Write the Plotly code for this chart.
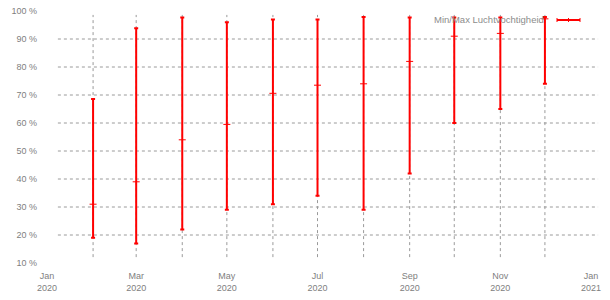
import plotly.graph_objects as go

months = ["2020-02-01", "2020-03-01", "2020-04-01", "2020-05-01", "2020-06-01", "2020-07-01",
          "2020-08-01", "2020-09-01", "2020-10-01", "2020-11-01", "2020-12-01"]
hum_min = [19, 17, 22, 29, 31, 34, 29, 42, 60, 65, 74]
hum_mid = [31, 39, 54, 59.5, 70.6, 73.5, 74, 82, 91, 92, 97.2]
hum_max = [68.6, 93.8, 97.7, 96, 97, 97, 97.9, 97.7, 97.7, 97.7, 97.9]

y_ticks = [10, 20, 30, 40, 50, 60, 70, 80, 90, 100]
y_labels = [f"{v} %" for v in y_ticks]
x_ticks = ["2020-01-01", "2020-03-01", "2020-05-01", "2020-07-01", "2020-09-01", "2020-11-01", "2021-01-01"]
x_labels = ["Jan<br>2020", "Mar<br>2020", "May<br>2020", "Jul<br>2020", "Sep<br>2020", "Nov<br>2020", "Jan<br>2021"]
grid_months = ["2020-02-01", "2020-03-01", "2020-04-01", "2020-05-01", "2020-06-01", "2020-07-01",
               "2020-08-01", "2020-09-01", "2020-10-01", "2020-11-01", "2020-12-01"]
grid_y = [20, 30, 40, 50, 60, 70, 80, 90]

RED = "#ff0000"
GRID = "#9a9a9a"
TXT = "#808080"

fig = go.Figure()
fig.add_trace(go.Scatter(
    x=months, y=hum_mid, mode="markers",
    marker=dict(symbol="line-ew", size=5, color=RED, line=dict(color=RED, width=1)),
    error_y=dict(type="data", symmetric=False,
                 array=[mx - m for mx, m in zip(hum_max, hum_mid)],
                 arrayminus=[m - mn for m, mn in zip(hum_mid, hum_min)],
                 color=RED, thickness=2, width=2),
    showlegend=False,
))

shapes = []
for gy in grid_y:
    shapes.append(dict(type="line", xref="paper", yref="y", x0=0.02, x1=1.013, y0=gy, y1=gy,
                       line=dict(color=GRID, width=1, dash="3px,3px"), layer="below"))
for gm in grid_months:
    shapes.append(dict(type="line", xref="x", yref="y", x0=gm, x1=gm, y0=12.1, y1=98.6,
                       line=dict(color=GRID, width=1, dash="3px,3px"), layer="below"))
# legend symbol
lx0, lx1, ly = 557, 580, 20
W, H = 610, 300
L, R, T, B = 47, 19, 11, 37
pw, ph = W - L - R, H - T - B
def px(x):
    return (x - L) / pw
def py(y):
    return 1 - (y - T) / ph
shapes.append(dict(type="line", xref="paper", yref="paper", x0=px(lx0), x1=px(lx1), y0=py(ly), y1=py(ly),
                   line=dict(color=RED, width=2)))
for tx in [lx0, (lx0 + lx1) / 2, lx1]:
    shapes.append(dict(type="line", xref="paper", yref="paper", x0=px(tx), x1=px(tx), y0=py(ly - 2), y1=py(ly + 2),
                       line=dict(color=RED, width=1)))

fig.update_layout(
    width=W, height=H,
    margin=dict(l=L, r=R, t=T, b=B, autoexpand=False),
    plot_bgcolor="white", paper_bgcolor="white",
    font=dict(family="Liberation Sans, Arial, sans-serif", size=9, color=TXT),
    shapes=shapes,
    annotations=[dict(text="Min/Max Luchtvochtigheid", xref="paper", yref="paper",
                      x=px(546), y=py(ly), xanchor="right", yanchor="middle", showarrow=False,
                      font=dict(size=9.5, color="#8c8c8c"))],
    xaxis=dict(type="date", range=["2020-01-01", "2021-01-01"], showgrid=False, zeroline=False,
               showline=False, tickvals=x_ticks, ticktext=x_labels, ticks="", ticklabelstandoff=6,
               automargin=False),
    yaxis=dict(range=[10, 100], showgrid=False, zeroline=False, showline=False,
               tickvals=y_ticks, ticktext=y_labels, ticks="", ticklabelstandoff=9, automargin=False),
)

fig.write_html("out.html")
